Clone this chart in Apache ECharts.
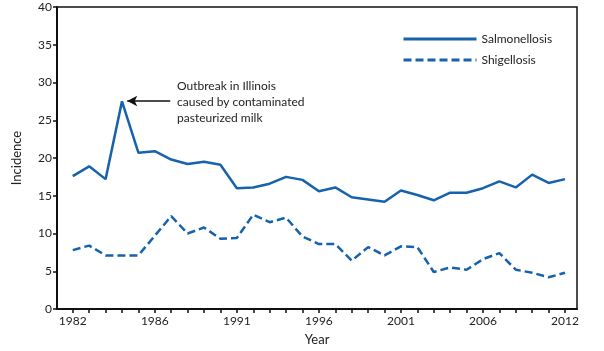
<!DOCTYPE html>
<html>
<head>
<meta charset="utf-8">
<script src="https://cdn.jsdelivr.net/npm/echarts@6/dist/echarts.min.js"></script>
<style>
  html, body { margin: 0; padding: 0; background: #fff; }
  #chart { width: 604px; height: 351px; }
</style>
</head>
<body>
<div id="chart"></div>
<script>
// years 1982-2012
var years = [1982, 1983, 1984, 1985, 1986, 1987, 1988, 1989, 1990, 1991,
  1992, 1993, 1994, 1995, 1996, 1997, 1998, 1999, 2000, 2001,
  2002, 2003, 2004, 2005, 2006, 2007, 2008, 2009, 2010, 2011, 2012];

var salmonellosis = [17.6, 18.9, 17.2, 27.5, 20.7, 20.9, 19.8, 19.2, 19.5, 19.1,
  16.0, 16.1, 16.6, 17.5, 17.1, 15.6, 16.1, 14.8, 14.5, 14.2,
  15.7, 15.1, 14.4, 15.4, 15.4, 16.0, 16.9, 16.1, 17.8, 16.7, 17.2];

var shigellosis = [7.8, 8.4, 7.1, 7.1, 7.1, 9.7, 12.3, 10.0, 10.8, 9.3,
  9.4, 12.5, 11.5, 12.1, 9.6, 8.6, 8.6, 6.4, 8.2, 7.1,
  8.3, 8.2, 4.9, 5.5, 5.2, 6.6, 7.4, 5.2, 4.8, 4.2, 4.8];

// labelled tick positions and the text printed under them
var labelYears = [1982, 1987, 1992, 1997, 2002, 2007, 2012];
var tickLabels = ['1982', '1986', '1991', '1996', '2001', '2006', '2012'];

var blue = '#1662ac';
var font = 'Lato, "Open Sans", sans-serif';

function pairs(vals) {
    var out = [];
    for (var i = 0; i < years.length; i++) out.push([years[i], vals[i]]);
    return out;
}

var chart = echarts.init(document.getElementById('chart'));
var option = {
    animation: false,
    textStyle: { fontFamily: font },
    grid: {
        left: 57, right: 27, top: 7, bottom: 41,
        show: true, borderColor: '#111', borderWidth: 1.5
    },
    legend: {
        orient: 'vertical',
        left: 397, top: 28,
        itemWidth: 73, itemHeight: 10, itemGap: 9,
        itemStyle: { opacity: 0 },
        lineStyle: { width: 3 },
        textStyle: { fontSize: 12, color: '#222', fontFamily: font },
        data: ['Salmonellosis', 'Shigellosis']
    },
    xAxis: {
        type: 'value',
        min: 1981.04, max: 2012.73,
        name: 'Year', nameLocation: 'middle', nameGap: 24,
        nameTextStyle: { fontSize: 13, color: '#222' },
        splitLine: { show: false },
        axisLine: { lineStyle: { color: '#111', width: 2 } },
        axisTick: { customValues: years, length: 4, lineStyle: { color: '#111', width: 1.5 } },
        axisLabel: {
            customValues: labelYears, fontSize: 12, color: '#222', margin: 6,
            formatter: function (v) {
                var i = labelYears.indexOf(Math.round(v));
                return i >= 0 ? tickLabels[i] : '';
            }
        }
    },
    yAxis: {
        type: 'value', min: 0, max: 40, interval: 5,
        name: 'Incidence', nameLocation: 'middle', nameGap: 34,
        nameTextStyle: { fontSize: 13, color: '#222' },
        splitLine: { show: false },
        axisLine: { show: true, lineStyle: { color: '#111', width: 2 } },
        axisTick: { show: true, length: 4, lineStyle: { color: '#111', width: 1.5 } },
        axisLabel: { fontSize: 12, color: '#222', margin: 5 }
    },
    series: [{
        name: 'Salmonellosis',
        type: 'line',
        data: pairs(salmonellosis),
        symbol: 'none',
        lineStyle: { color: blue, width: 2.5 },
        itemStyle: { color: blue },
        markLine: {
            silent: true,
            symbol: ['arrow', 'none'],
            symbolSize: [8, 10],
            label: { show: false },
            lineStyle: { color: '#111', width: 1.5, type: 'solid' },
            data: [[{ coord: [1985.32, 27.55] }, { coord: [1987.94, 27.55] }]]
        }
    }, {
        name: 'Shigellosis',
        type: 'line',
        data: pairs(shigellosis),
        symbol: 'none',
        lineStyle: { color: blue, width: 2.5, type: [8, 4] },
        itemStyle: { color: blue }
    }],
    graphic: [{
        type: 'text',
        left: 177, top: 78,
        style: {
            text: 'Outbreak in Illinois\ncaused by contaminated\npasteurized milk',
            font: '12px ' + font,
            fill: '#222',
            lineHeight: 16
        }
    }]
};
chart.setOption(option);
</script>
</body>
</html>
